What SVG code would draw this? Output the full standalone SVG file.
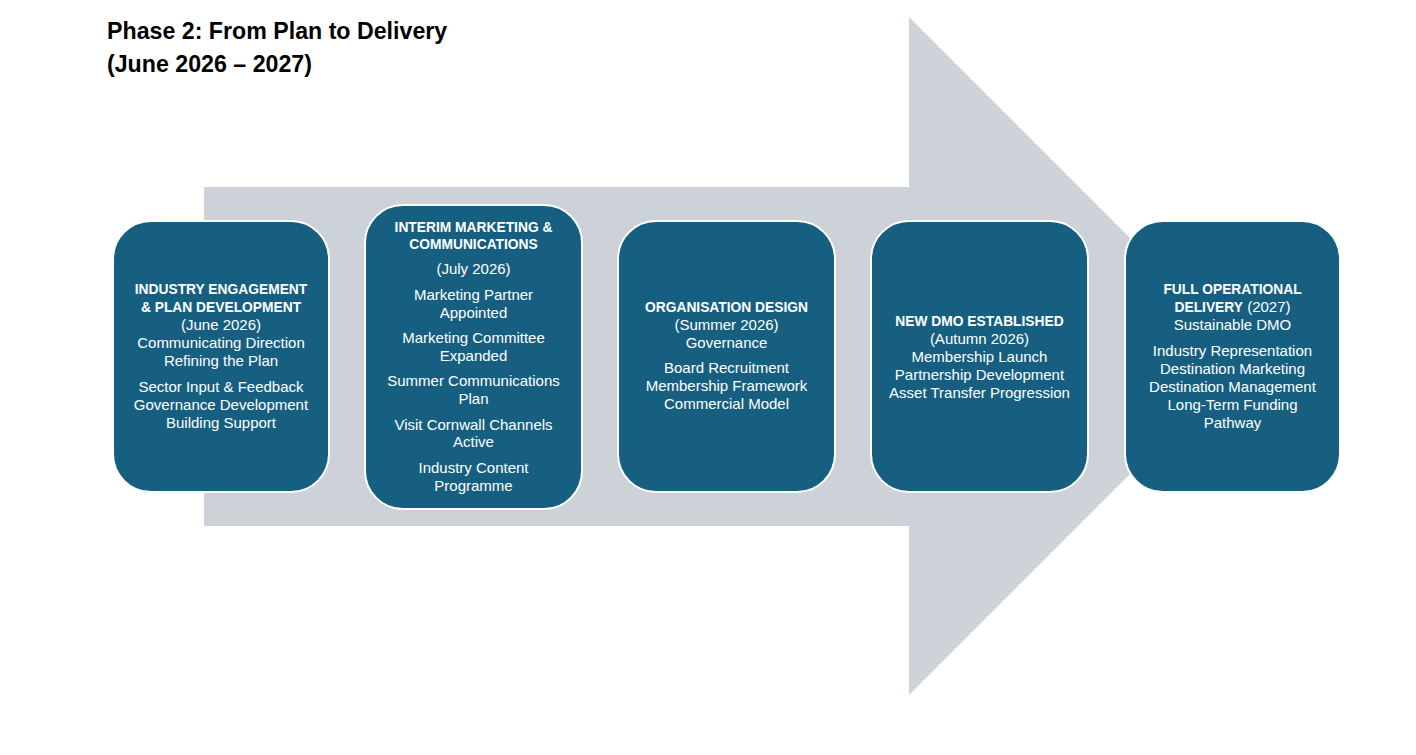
<svg xmlns="http://www.w3.org/2000/svg" width="1416" height="755" viewBox="0 0 1416 755">
<style>
.title{font-family:"Liberation Sans",Arial,sans-serif;font-weight:bold;font-size:23.2px;fill:#000}
.box{fill:#175f80;stroke:#ffffff;stroke-width:2}
.t{font-family:"Liberation Sans",Arial,sans-serif;font-size:15px;fill:#ffffff;text-anchor:middle}
.b{font-weight:bold;font-size:13.8px}
</style>
<rect width="1416" height="755" fill="#ffffff"/>
<g id="arrow">
<polygon points="204,187 909,187 909,17 1248,356 909,695 909,526 204,526" fill="#cdd2d9"/>
</g>
<g id="title">
<text class="title" x="107" y="39">Phase 2: From Plan to Delivery</text>
<text class="title" x="107" y="72">(June 2026 – 2027)</text>
</g>
<g id="connectors"></g>
<g id="node1">
<rect class="box" x="113" y="221" width="216" height="271" rx="38" ry="38"/>
<text class="t b" x="221" y="294">INDUSTRY ENGAGEMENT</text>
<text class="t b" x="221" y="312">&amp; PLAN DEVELOPMENT</text>
<text class="t" x="221" y="330">(June 2026)</text>
<text class="t" x="221" y="348">Communicating Direction</text>
<text class="t" x="221" y="366">Refining the Plan</text>
<text class="t" x="221" y="392">Sector Input &amp; Feedback</text>
<text class="t" x="221" y="410">Governance Development</text>
<text class="t" x="221" y="428">Building Support</text>
</g>
<g id="node2">
<rect class="box" x="365" y="205" width="217" height="304" rx="38" ry="38"/>
<text class="t b" x="473.5" y="232">INTERIM MARKETING &amp;</text>
<text class="t b" x="473.5" y="249">COMMUNICATIONS</text>
<text class="t" x="473.5" y="274">(July 2026)</text>
<text class="t" x="473.5" y="300">Marketing Partner</text>
<text class="t" x="473.5" y="318">Appointed</text>
<text class="t" x="473.5" y="343">Marketing Committee</text>
<text class="t" x="473.5" y="361">Expanded</text>
<text class="t" x="473.5" y="386">Summer Communications</text>
<text class="t" x="473.5" y="404">Plan</text>
<text class="t" x="473.5" y="430">Visit Cornwall Channels</text>
<text class="t" x="473.5" y="447">Active</text>
<text class="t" x="473.5" y="473">Industry Content</text>
<text class="t" x="473.5" y="491">Programme</text>
</g>
<g id="node3">
<rect class="box" x="618" y="221" width="217" height="271" rx="38" ry="38"/>
<text class="t b" x="726.5" y="312">ORGANISATION DESIGN</text>
<text class="t" x="726.5" y="330">(Summer 2026)</text>
<text class="t" x="726.5" y="348">Governance</text>
<text class="t" x="726.5" y="373">Board Recruitment</text>
<text class="t" x="726.5" y="391">Membership Framework</text>
<text class="t" x="726.5" y="409">Commercial Model</text>
</g>
<g id="node4">
<rect class="box" x="871" y="221" width="217" height="271" rx="38" ry="38"/>
<text class="t b" x="979.5" y="326">NEW DMO ESTABLISHED</text>
<text class="t" x="979.5" y="344">(Autumn 2026)</text>
<text class="t" x="979.5" y="362">Membership Launch</text>
<text class="t" x="979.5" y="380">Partnership Development</text>
<text class="t" x="979.5" y="398">Asset Transfer Progression</text>
</g>
<g id="node5">
<rect class="box" x="1125" y="221" width="215" height="271" rx="38" ry="38"/>
<text class="t b" x="1232.5" y="294">FULL OPERATIONAL</text>
<text class="t" x="1232.5" y="312"><tspan class="b">DELIVERY</tspan> (2027)</text>
<text class="t" x="1232.5" y="330">Sustainable DMO</text>
<text class="t" x="1232.5" y="356">Industry Representation</text>
<text class="t" x="1232.5" y="374">Destination Marketing</text>
<text class="t" x="1232.5" y="392">Destination Management</text>
<text class="t" x="1232.5" y="410">Long-Term Funding</text>
<text class="t" x="1232.5" y="428">Pathway</text>
</g>
</svg>
